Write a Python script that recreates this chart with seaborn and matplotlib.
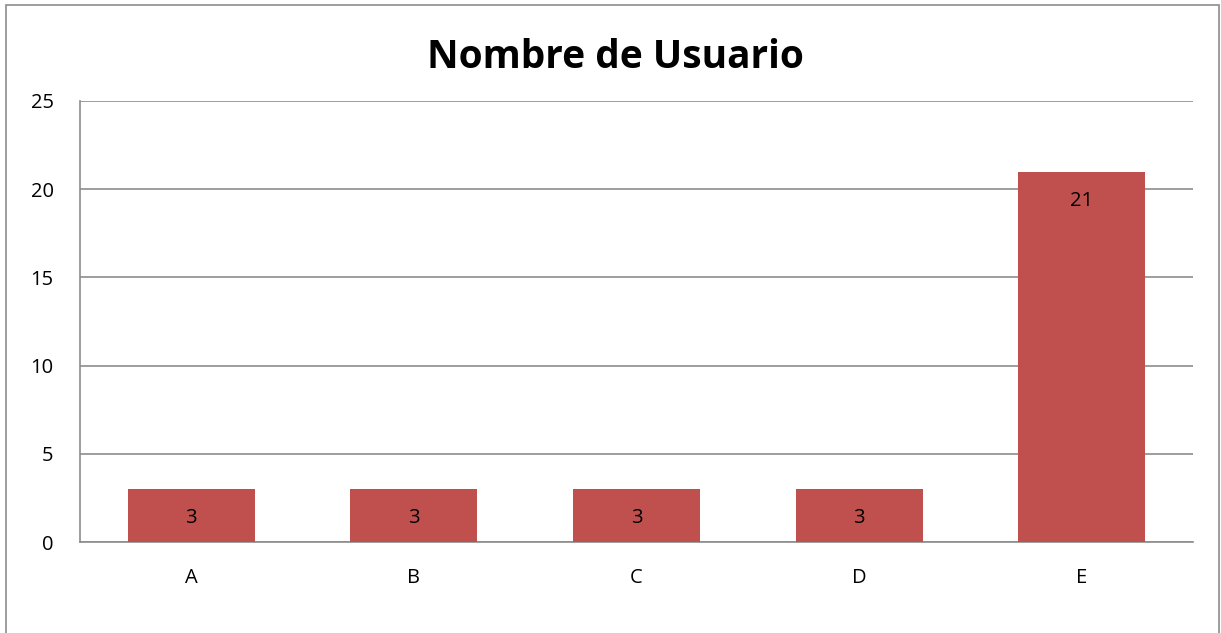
import matplotlib
matplotlib.use("Agg")
import matplotlib.pyplot as plt
import seaborn as sns
import pandas as pd
from matplotlib.patches import Rectangle

categories = ["A", "B", "C", "D", "E"]
values = [3, 3, 3, 3, 21]
yticks = [0, 5, 10, 15, 20, 25]
title = "Nombre de Usuario"

sns.set_theme(style="white")
plt.rcParams['font.family'] = ['Open Sans', 'DejaVu Sans']

W, H = 1221, 633
fig = plt.figure(figsize=(W / 100, H / 100), dpi=100)
ax = fig.add_axes([80 / W, (H - 542) / H, 1113 / W, 441 / H])

df = pd.DataFrame({"cat": categories, "val": values})
sns.barplot(data=df, x="cat", y="val", color="#C0504D", saturation=1, width=0.57,
            linewidth=0, ax=ax, zorder=3)

ax.set_ylim(0, 25)
ax.set_yticks(yticks)
ax.set_xlim(-0.5, len(categories) - 0.5)
ax.yaxis.grid(True, color="#8C8C8C", linewidth=1.2, zorder=0)
ax.set_axisbelow(True)
for s in ["top", "right"]:
    ax.spines[s].set_visible(False)
for s in ["left", "bottom"]:
    ax.spines[s].set_color("#8C8C8C")
    ax.spines[s].set_linewidth(1.2)
ax.tick_params(axis="both", length=0, labelsize=14.5, colors="black")
ax.tick_params(axis="y", pad=19)
ax.tick_params(axis="x", pad=19)
ax.set_xlabel("")
ax.set_ylabel("")

for i, v in enumerate(values):
    ax.annotate(str(v), xy=(i, v), xytext=(0, -21), textcoords="offset points",
                ha="center", va="center", fontsize=14.5, color="black", zorder=4)

fig.text(615 / W, 1 - 57 / H, title, ha="center", va="center", fontsize=28,
         fontweight="bold", color="black")

fig.add_artist(Rectangle((6 / W, -0.02), (1219 - 6) / W, 1.02 - 5 / H,
                         transform=fig.transFigure, fill=False, edgecolor="#8C8C8C", linewidth=1.2))

fig.savefig("out.png", dpi=100)
